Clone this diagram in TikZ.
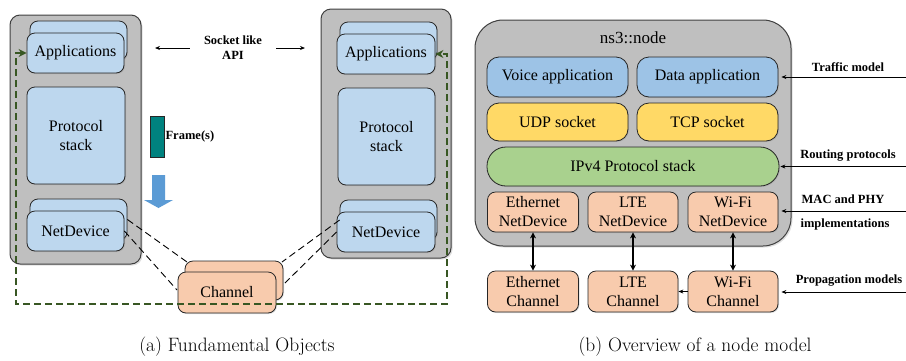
\documentclass[tikz,border=0pt]{standalone}
\usepackage{fontspec}
\newfontfamily\diagfont{Liberation Serif}
\usetikzlibrary{arrows.meta,shadows}

\definecolor{nodegray}{HTML}{BFBFBF}
\definecolor{paleblue}{HTML}{BDD7EE}
\definecolor{appblue}{HTML}{9DC3E6}
\definecolor{sockyellow}{HTML}{FFD966}
\definecolor{ipgreen}{HTML}{A9D18E}
\definecolor{devorange}{HTML}{F8CBAD}
\definecolor{frameteal}{HTML}{00827F}
\definecolor{downblue}{HTML}{5B9BD5}
\definecolor{loopgreen}{HTML}{385723}

\tikzset{
  sized/.style 2 args={minimum width=#1pt, minimum height=#2pt},
  block/.style={draw=black!85, line width=0.8pt, rounded corners=8pt, inner sep=0pt,
    align=center, font=\diagfont\fontsize{16}{19}\selectfont,
    drop shadow={shadow xshift=1pt, shadow yshift=-1pt, opacity=0.25}},
  hostbox/.style={draw=black!75, line width=1pt, fill=nodegray, rounded corners=10pt,
    inner sep=0pt, drop shadow={shadow xshift=1.5pt, shadow yshift=-1.5pt, opacity=0.25}},
  tag/.style={font=\diagfont\bfseries\fontsize{12.5}{15}\selectfont, align=center, inner sep=0pt},
  caption/.style={font=\fontsize{19.4}{23}\selectfont, inner sep=0pt},
  tip/.style={-{Stealth[length=5pt,width=4pt]}, line width=0.8pt},
  linkdash/.style={dash pattern=on 7pt off 4pt, line width=0.9pt},
  looparrow/.style={{Stealth[length=8pt,width=8pt]}-{Stealth[length=8pt,width=8pt]},
    draw=loopgreen, line width=1.8pt, dash pattern=on 7pt off 4pt},
  bothway/.style={{Stealth[length=6pt,width=6pt]}-{Stealth[length=6pt,width=6pt]}, line width=2pt},
}

\begin{document}
\begin{tikzpicture}[x=1pt,y=-1pt]
  \useasboundingbox (0,0) rectangle (906,360);

  % (a) fundamental objects
  \node[hostbox, sized={131}{249}] (lhost) at (75.5,139.5) {};
  \node[hostbox, sized={130}{249}] (rhost) at (386,133.5) {};

  \node[block, fill=paleblue, sized={97}{39}] (lappb) at (78.5,40.5) {};
  \node[block, fill=paleblue, sized={97}{40}] (lappf) at (75.5,53) {Applications};
  \node[block, fill=paleblue, sized={98}{97}] (lproto) at (76,135.5) {Protocol\\stack};
  \node[block, fill=paleblue, sized={97}{41}] (lndb) at (78.5,219.5) {};
  \node[block, fill=paleblue, sized={97}{40}] (lndf) at (75.5,231) {NetDevice};

  \node[block, fill=paleblue, sized={97}{38}] (rappb) at (388.5,41) {};
  \node[block, fill=paleblue, sized={98}{40}] (rappf) at (386,54) {Applications};
  \node[block, fill=paleblue, sized={97}{97}] (rproto) at (386.5,136.5) {Protocol\\stack};
  \node[block, fill=paleblue, sized={97}{40}] (rndb) at (388.5,220) {};
  \node[block, fill=paleblue, sized={98}{40}] (rndf) at (386,232) {NetDevice};

  \draw[linkdash] (lndb.east) -- (187,262);
  \draw[linkdash] (lndf.east) -- (177,290);
  \draw[linkdash] (rndb.west) -- (282,262);
  \draw[linkdash] (rndf.west) -- (285,283);

  \node[block, fill=devorange, sized={98}{39}] (chb) at (234,280.5) {};
  \node[block, fill=devorange, sized={98}{41}] (chf) at (227,292.5) {Channel};

  % socket api
  \node[tag, inner xsep=14pt] (sock) at (233,48) {Socket like\\API};
  \coordinate (apiL) at (155,48);
  \coordinate (apiR) at (305,48);
  \draw[tip] (sock) -- (apiL);
  \draw[tip] (sock) -- (apiR);

  % frame and direction
  \node[draw=black!85, line width=0.8pt, fill=frameteal, sized={14}{41}, inner sep=0pt] (frm) at (157,136.5) {};
  \node[tag, anchor=west] (frmlbl) at ([xshift=1pt]frm.east) {Frame(s)};
  \fill[downblue] (152,175) -- (165,175) -- (165,200) -- (173,200) -- (158.5,208)
    -- (144,200) -- (152,200) -- cycle;

  % loop between the applications
  \coordinate (loopL) at (16,304);
  \coordinate (loopR) at (447,304);
  \draw[looparrow] (lappf.west) -| (loopL) -- (loopR) |- (rappf.east);

  % (b) node model
  \node[hostbox, rounded corners=28pt, sized={316}{226}] (ns) at (633,133) {};
  \node[font=\diagfont\fontsize{17}{20}\selectfont] (nslbl) at (633,38) {ns3::node};

  \node[block, rounded corners=12pt, fill=appblue, sized={141}{40}] (voice) at (557.5,77) {Voice application};
  \node[block, rounded corners=12pt, fill=appblue, sized={141}{40}] (data) at (707.5,77) {Data application};
  \node[block, rounded corners=12pt, fill=sockyellow, sized={141}{38}] (udp) at (557.5,122) {UDP socket};
  \node[block, rounded corners=12pt, fill=sockyellow, sized={141}{38}] (tcp) at (707.5,122) {TCP socket};
  \node[block, rounded corners=19pt, fill=ipgreen, sized={292}{39}] (ipv4) at (633,166.5) {IPv4 Protocol stack};

  \node[block, fill=devorange, sized={91}{40}] (ethnd) at (533,212) {Ethernet\\NetDevice};
  \node[block, fill=devorange, sized={90}{40}] (ltend) at (633,212) {LTE\\NetDevice};
  \node[block, fill=devorange, sized={90}{40}] (wifind) at (733,212) {Wi-Fi\\NetDevice};

  \node[block, fill=devorange, sized={91}{41}] (ethch) at (533,291.5) {Ethernet\\Channel};
  \node[block, fill=devorange, sized={90}{41}] (ltech) at (633,291.5) {LTE\\Channel};
  \node[block, fill=devorange, sized={90}{41}] (wifich) at (733,291.5) {Wi-Fi\\Channel};

  \draw[bothway] (ethnd) -- (ethch);
  \draw[bothway] (ltend) -- (ltech);
  \draw[bothway] (wifind) -- (wifich);
  \draw[tip] (wifich) -- (ltech);

  % models feeding the node
  \coordinate (trafR) at (906,77);
  \coordinate (routR) at (906,166.5);
  \coordinate (macR) at (906,211);
  \coordinate (propR) at (906,292);
  \draw[tip] (trafR) -- ([xshift=3pt]data.east);
  \draw[tip] (routR) -- ([xshift=1pt]ipv4.east);
  \draw[tip] (macR) -- ([xshift=3pt]wifind.east|-macR);
  \draw[tip] (propR) -- ([xshift=3pt]wifich.east|-propR);

  \node[tag] (traflbl) at (848,67) {Traffic model};
  \node[tag] (routlbl) at (848,156) {Routing protocols};
  \node[tag] (maclbl) at (843,199) {MAC and PHY};
  \node[tag] (implbl) at (845,224) {implementations};
  \node[tag] (proplbl) at (849,281) {Propagation models};

  % captions
  \node[caption] (capa) at (237,347) {(a) Fundamental Objects};
  \node[caption] (capb) at (695,347) {(b) Overview of a node model};
\end{tikzpicture}
\end{document}
